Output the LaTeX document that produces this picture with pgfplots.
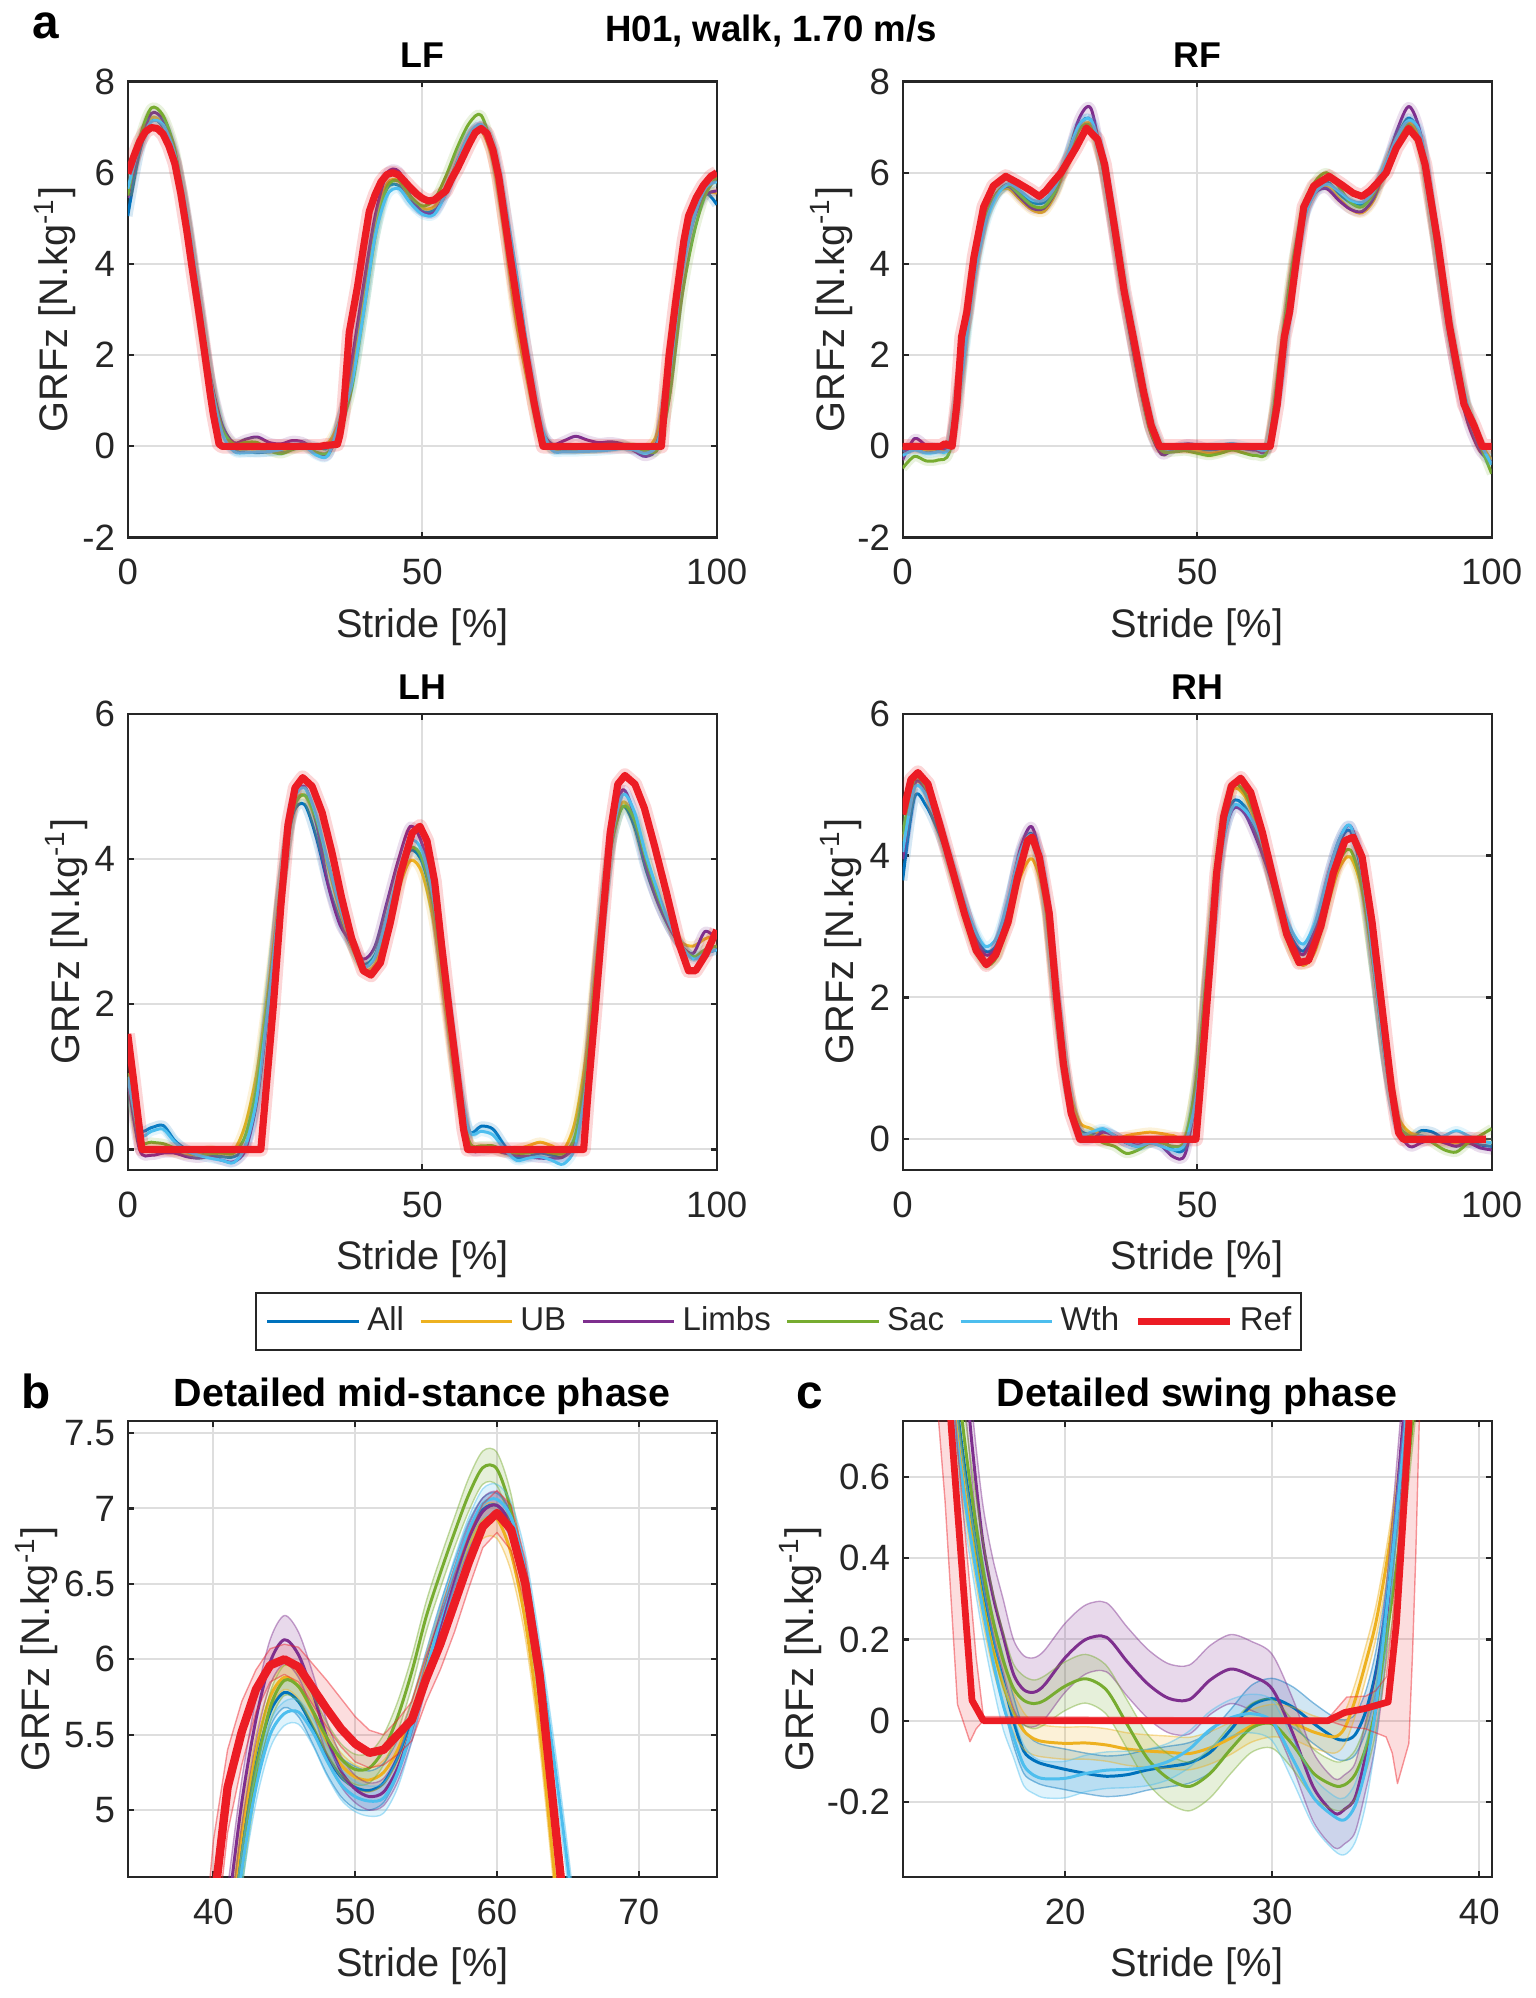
\documentclass[border=0pt]{standalone}
\usepackage{fontspec}
\setmainfont{Liberation Sans}
\usepackage{pgfplots}
\pgfplotsset{compat=1.18}
\usepackage{pgfplotstable}
\usepgfplotslibrary{fillbetween}

\definecolor{cAll}{HTML}{0072BD}
\definecolor{cUB}{HTML}{EDB120}
\definecolor{cLimbs}{HTML}{7E2F8E}
\definecolor{cSac}{HTML}{77AC30}
\definecolor{cWth}{HTML}{4DBEEE}
\definecolor{cRef}{HTML}{EC1C24}
\definecolor{axgray}{HTML}{262626}
\definecolor{gridgray}{HTML}{DEDEDE}

% ---------- LF (also zoomed in b and c) ----------
\pgfplotstableread{
x A U L S W
0 5.05 5.50 5.45 5.50 5.65
2 6.45 6.60 6.60 6.75 6.60
4 7.15 7.20 7.30 7.42 7.12
6 7.00 7.05 7.15 7.25 7.05
8 6.30 6.30 6.40 6.50 6.40
10 4.95 4.90 4.95 5.00 5.10
12 3.15 3.10 3.20 3.20 3.35
14 1.40 1.35 1.55 1.50 1.50
16 0.34 0.30 0.48 0.40 0.30
18 -0.08 -0.03 0.08 0.05 -0.11
20 -0.12 -0.056 0.155 0.087 -0.14
22 -0.137 -0.06 0.205 0.083 -0.122
24 -0.12 -0.076 0.085 -0.09 -0.115
26 -0.104 -0.08 0.052 -0.162 -0.07
28 -0.02 -0.043 0.128 -0.07 0.008
30 0.054 0.0 0.08 -0.007 0.0
32 -0.007 -0.028 -0.16 -0.13 -0.19
34 -0.03 0.065 -0.19 -0.135 -0.2
36 0.52 0.58 0.50 0.38 0.56
38 1.55 1.65 1.85 1.25 1.35
40 3.10 3.20 3.50 2.90 2.90
42 4.75 4.85 5.05 4.60 4.60
44 5.65 5.75 5.98 5.68 5.50
46 5.72 5.82 6.03 5.82 5.65
48 5.36 5.45 5.48 5.48 5.33
50 5.15 5.22 5.14 5.27 5.09
52 5.18 5.25 5.12 5.40 5.08
54 5.62 5.65 5.55 5.92 5.55
56 6.27 6.25 6.22 6.57 6.26
58 6.82 6.76 6.80 7.09 6.85
60 7.02 6.93 7.02 7.26 7.06
62 6.50 6.25 6.50 6.45 6.60
64 5.05 4.62 5.02 4.95 5.35
66 3.15 2.70 3.10 3.05 3.80
68 1.75 1.35 1.70 1.60 2.00
70 0.40 0.20 0.45 0.35 0.55
72 -0.05 -0.05 0.05 0.0 -0.08
74 -0.08 -0.05 0.12 -0.04 -0.12
76 -0.08 -0.06 0.22 -0.05 -0.12
78 -0.06 -0.05 0.14 -0.06 -0.11
80 -0.05 -0.04 0.08 -0.05 -0.10
82 -0.03 -0.02 0.10 0.02 -0.08
84 0.0 0.0 0.05 0.03 -0.05
86 -0.05 -0.03 -0.10 -0.02 -0.08
88 -0.12 -0.05 -0.22 -0.10 -0.15
90 0.15 0.35 0.05 -0.05 0.10
92 1.65 2.00 1.70 1.10 1.60
94 3.75 4.05 3.80 3.20 3.70
96 4.95 5.10 4.95 4.60 4.95
98 5.55 5.55 5.50 5.50 5.65
100 5.30 5.55 5.60 5.90 5.80
}\lfmain

\pgfplotstableread{
x y
0 5.98
1 6.35
2 6.68
3 6.90
4 6.99
5 6.97
6 6.85
7 6.58
8 6.20
9 5.55
10 4.75
11 3.85
12 3.00
13 2.10
14 1.15
14.5 0.72
15.5 0.05
16.05 0
32.7 0
33.5 0.02
34.5 0.03
35.6 0.046
36 0.24
36.3 0.48
36.6 0.73
37.6 2.5
39 3.5
40 4.35
41 5.15
42 5.52
43 5.80
44 5.96
45 6.00
46 5.95
47 5.81
48 5.67
49 5.54
50 5.44
51 5.38
52 5.40
53 5.50
54 5.60
55 5.87
56 6.10
57 6.37
58 6.64
59 6.88
60 6.97
61 6.86
62 6.50
63 5.90
64 5.00
65 4.10
66 3.25
67 2.45
68 1.70
69 0.95
70 0.30
70.5 0
90.6 0
91.2 1.0
91.9 2.0
93 3.15
94.4 4.5
95.2 5.05
96.5 5.45
97.7 5.72
99 5.92
100 6.0
}\lfred

% ---------- b: mid-stance detail (mean, lo, hi) ----------
\pgfplotstableread{
x Am Alo Ahi Um Ulo Uhi Lm Llo Lhi Sm Slo Shi Wm Wlo Whi
39 2.20 2.00 2.40 2.30 2.12 2.48 2.60 2.40 2.80 2.00 1.82 2.18 2.00 1.82 2.18
40 3.10 2.92 3.28 3.20 3.04 3.36 3.50 3.30 3.70 2.90 2.72 3.08 2.90 2.72 3.08
41 4.00 3.84 4.16 4.10 3.96 4.24 4.30 4.12 4.48 3.80 3.64 3.96 3.80 3.64 3.96
42 4.75 4.62 4.88 4.85 4.73 4.97 5.05 4.90 5.20 4.60 4.47 4.73 4.60 4.48 4.72
43 5.30 5.19 5.41 5.40 5.30 5.50 5.60 5.46 5.74 5.25 5.14 5.36 5.15 5.05 5.25
44 5.65 5.55 5.75 5.75 5.67 5.83 5.98 5.83 6.13 5.68 5.58 5.78 5.50 5.41 5.59
45 5.78 5.68 5.88 5.88 5.80 5.96 6.13 5.97 6.29 5.86 5.76 5.96 5.64 5.56 5.72
46 5.72 5.62 5.82 5.82 5.74 5.90 6.03 5.88 6.18 5.82 5.72 5.92 5.65 5.57 5.73
47 5.55 5.44 5.66 5.65 5.57 5.73 5.78 5.65 5.91 5.66 5.56 5.76 5.52 5.43 5.61
48 5.36 5.24 5.48 5.45 5.37 5.53 5.48 5.37 5.59 5.48 5.38 5.58 5.33 5.23 5.43
49 5.22 5.09 5.35 5.30 5.22 5.38 5.26 5.16 5.36 5.34 5.24 5.44 5.17 5.07 5.27
50 5.15 5.01 5.29 5.22 5.14 5.30 5.14 5.05 5.23 5.27 5.17 5.37 5.09 4.99 5.19
51 5.13 5.00 5.26 5.20 5.12 5.28 5.09 5.00 5.18 5.28 5.18 5.38 5.06 4.96 5.16
52 5.18 5.05 5.31 5.25 5.17 5.33 5.12 5.03 5.21 5.40 5.30 5.50 5.08 4.98 5.18
53 5.35 5.23 5.47 5.40 5.32 5.48 5.28 5.19 5.37 5.62 5.52 5.72 5.25 5.15 5.35
54 5.62 5.51 5.73 5.65 5.57 5.73 5.55 5.46 5.64 5.92 5.82 6.02 5.55 5.46 5.64
55 5.95 5.85 6.05 5.95 5.87 6.03 5.90 5.81 5.99 6.28 6.18 6.38 5.92 5.83 6.01
56 6.27 6.17 6.37 6.25 6.17 6.33 6.22 6.13 6.31 6.57 6.47 6.67 6.26 6.17 6.35
57 6.56 6.47 6.65 6.52 6.43 6.61 6.52 6.43 6.61 6.84 6.74 6.94 6.58 6.49 6.67
58 6.82 6.73 6.91 6.76 6.66 6.86 6.80 6.71 6.89 7.09 6.98 7.20 6.85 6.76 6.94
59 6.99 6.91 7.07 6.92 6.80 7.02 6.98 6.89 7.07 7.27 7.16 7.38 7.03 6.93 7.13
60 7.02 6.94 7.10 6.93 6.80 7.02 7.02 6.93 7.11 7.26 7.15 7.37 7.06 6.96 7.16
61 6.88 6.80 6.96 6.70 6.58 6.80 6.88 6.79 6.97 6.98 6.87 7.09 6.94 6.84 7.04
62 6.50 6.41 6.59 6.25 6.14 6.36 6.50 6.40 6.60 6.45 6.34 6.56 6.60 6.50 6.70
63 5.88 5.78 5.98 5.55 5.43 5.67 5.88 5.77 5.99 5.80 5.68 5.92 6.02 5.91 6.13
64 5.05 4.94 5.16 4.62 4.50 4.74 5.02 4.90 5.14 4.95 4.83 5.07 5.35 5.23 5.47
65 4.10 3.98 4.22 3.65 3.53 3.77 4.05 3.93 4.17 4.00 3.88 4.12 4.62 4.50 4.74
66 3.15 3.03 3.27 2.70 2.58 2.82 3.10 2.98 3.22 3.05 2.93 3.17 3.80 3.68 3.92
}\tabb

\pgfplotstableread{
x lo hi
39 3.30 3.75
40 4.00 4.80
41 4.85 5.40
42 5.30 5.72
43 5.65 5.93
44 5.85 6.07
45 5.90 6.10
46 5.85 6.08
47 5.70 5.97
48 5.55 5.86
49 5.42 5.74
50 5.32 5.62
51 5.28 5.53
52 5.30 5.50
53 5.37 5.60
54 5.46 5.72
55 5.72 6.02
56 5.93 6.28
57 6.18 6.56
58 6.47 6.82
59 6.74 7.03
60 6.84 7.12
61 6.72 7.02
62 6.35 6.66
63 5.75 6.06
64 4.85 5.16
65 3.95 4.26
66 3.10 3.40
}\redb

% ---------- c: swing detail (mean, lo, hi) ----------
\pgfplotstableread{
x Am Alo Ahi Um Ulo Uhi Lm Llo Lhi Sm Slo Shi Wm Wlo Whi
13 1.65 1.58 1.72 1.60 1.54 1.66 1.90 1.78 2.02 1.80 1.72 1.88 1.55 1.48 1.62
14 1.10 1.04 1.16 1.05 1.00 1.10 1.30 1.19 1.41 1.20 1.13 1.27 1.02 0.96 1.08
15 0.68 0.62 0.74 0.62 0.57 0.67 0.95 0.85 1.05 0.75 0.68 0.82 0.60 0.54 0.66
15.5 0.50 0.44 0.56 0.45 0.40 0.50 0.68 0.59 0.77 0.55 0.48 0.62 0.43 0.37 0.49
16 0.34 0.28 0.40 0.30 0.25 0.35 0.45 0.36 0.54 0.38 0.31 0.45 0.28 0.22 0.34
16.5 0.20 0.14 0.26 0.18 0.13 0.23 0.31 0.22 0.40 0.25 0.18 0.32 0.15 0.09 0.21
17 0.10 0.04 0.16 0.09 0.04 0.14 0.21 0.12 0.30 0.15 0.08 0.22 0.04 -0.02 0.10
17.5 0.00 -0.06 0.06 0.02 -0.03 0.07 0.115 0.03 0.20 0.08 0.02 0.14 -0.04 -0.09 0.01
18 -0.075 -0.13 -0.02 -0.025 -0.07 0.02 0.076 -0.01 0.16 0.05 -0.01 0.11 -0.11 -0.16 -0.06
18.5 -0.098 -0.15 -0.05 -0.045 -0.085 -0.005 0.07 -0.015 0.155 0.042 -0.02 0.10 -0.135 -0.18 -0.09
19 -0.108 -0.16 -0.06 -0.052 -0.09 -0.012 0.088 0.003 0.173 0.05 -0.01 0.11 -0.143 -0.19 -0.10
20 -0.12 -0.17 -0.07 -0.056 -0.095 -0.016 0.155 0.07 0.24 0.085 0.025 0.145 -0.142 -0.19 -0.10
21 -0.13 -0.18 -0.08 -0.055 -0.095 -0.015 0.20 0.115 0.285 0.103 0.043 0.163 -0.13 -0.175 -0.085
22 -0.137 -0.187 -0.087 -0.06 -0.10 -0.02 0.205 0.12 0.29 0.075 0.015 0.135 -0.122 -0.167 -0.077
23 -0.133 -0.183 -0.083 -0.07 -0.11 -0.03 0.145 0.06 0.23 -0.01 -0.07 0.05 -0.12 -0.165 -0.075
24 -0.121 -0.171 -0.071 -0.075 -0.115 -0.035 0.09 0.005 0.175 -0.095 -0.155 -0.035 -0.115 -0.16 -0.07
25 -0.113 -0.163 -0.063 -0.078 -0.118 -0.038 0.055 -0.03 0.14 -0.143 -0.203 -0.083 -0.10 -0.145 -0.055
26 -0.104 -0.154 -0.054 -0.081 -0.121 -0.041 0.052 -0.033 0.137 -0.162 -0.222 -0.102 -0.07 -0.115 -0.025
27 -0.078 -0.128 -0.028 -0.067 -0.107 -0.027 0.10 0.015 0.185 -0.13 -0.19 -0.07 -0.022 -0.067 0.023
28 -0.022 -0.072 0.028 -0.043 -0.083 -0.003 0.127 0.042 0.212 -0.07 -0.13 -0.01 0.007 -0.038 0.052
29 0.037 -0.013 0.087 -0.013 -0.053 0.027 0.11 0.025 0.195 -0.018 -0.078 0.042 0.017 -0.03 0.065
30 0.054 0.004 0.104 0.00 -0.04 0.04 0.078 -0.007 0.163 -0.008 -0.068 0.052 -0.002 -0.05 0.05
31 0.033 -0.017 0.083 -0.007 -0.047 0.033 -0.032 -0.117 0.053 -0.06 -0.12 0.00 -0.095 -0.15 -0.045
32 -0.007 -0.057 0.043 -0.028 -0.068 0.012 -0.165 -0.25 -0.08 -0.13 -0.19 -0.07 -0.19 -0.26 -0.14
33 -0.042 -0.092 0.008 -0.04 -0.08 0.00 -0.228 -0.313 -0.143 -0.16 -0.22 -0.10 -0.236 -0.32 -0.186
33.5 -0.048 -0.098 0.002 -0.018 -0.058 0.022 -0.218 -0.303 -0.133 -0.158 -0.218 -0.098 -0.244 -0.33 -0.19
34 -0.035 -0.085 0.015 0.05 0.01 0.09 -0.19 -0.275 -0.105 -0.133 -0.193 -0.073 -0.21 -0.30 -0.155
34.5 0.02 -0.03 0.07 0.14 0.10 0.18 -0.09 -0.175 -0.005 -0.07 -0.13 -0.01 -0.12 -0.21 -0.065
35 0.12 0.07 0.17 0.24 0.20 0.28 0.03 -0.055 0.115 0.03 -0.03 0.09 0.03 -0.05 0.08
35.5 0.28 0.23 0.33 0.38 0.34 0.42 0.24 0.155 0.325 0.20 0.14 0.26 0.26 0.19 0.31
36 0.50 0.45 0.55 0.55 0.51 0.59 0.54 0.455 0.625 0.38 0.32 0.44 0.50 0.44 0.55
36.5 0.72 0.67 0.77 0.75 0.71 0.79 0.85 0.765 0.935 0.60 0.54 0.66 0.76 0.71 0.81
37 0.98 0.93 1.03 0.98 0.94 1.02 1.20 1.115 1.285 0.85 0.79 0.91 1.02 0.97 1.07
37.5 1.28 1.23 1.33 1.25 1.21 1.29 1.60 1.515 1.685 1.15 1.09 1.21 1.30 1.25 1.35
38 1.60 1.55 1.65 1.55 1.51 1.59 1.90 1.815 1.985 1.45 1.39 1.51 1.60 1.55 1.65
}\tabc

\pgfplotstableread{
x lo hi
12 2.20 3.30
13 1.40 2.50
13.9 0.73 1.30
14.2 0.54 1.10
14.8 0.04 0.67
15.4 -0.052 0.33
15.7 -0.02 0.156
16.05 0 0.01
32.7 0 0.005
33.6 -0.015 0.058
34.5 -0.02 0.06
35.0 -0.03 0.074
35.5 -0.04 0.107
35.8 -0.08 0.24
36.05 -0.155 0.42
36.6 -0.056 0.85
36.77 0.156 1.0
36.93 0.40 1.2
37.1 0.73 1.4
38 1.80 2.60
}\redc

% ---------- RF ----------
\pgfplotstableread{
x A U L S W
0 -0.10 -0.05 -0.30 -0.48 -0.20
2 -0.02 0.0 0.17 -0.22 -0.08
4 -0.10 -0.08 0.02 -0.32 -0.15
6 -0.08 -0.05 -0.02 -0.30 -0.12
8 0.05 0.05 0.10 -0.10 0.0
10 1.75 1.90 1.85 1.60 1.50
12 3.80 3.90 3.85 3.70 3.55
14 5.00 5.05 5.00 4.95 4.85
16 5.55 5.55 5.55 5.55 5.50
18 5.75 5.65 5.70 5.72 5.75
20 5.55 5.40 5.45 5.50 5.60
22 5.35 5.18 5.22 5.28 5.40
24 5.35 5.15 5.22 5.25 5.40
26 5.70 5.55 5.60 5.62 5.72
28 6.35 6.25 6.35 6.30 6.40
30 7.05 6.95 7.20 6.95 7.05
32 7.15 7.05 7.40 7.00 7.15
34 6.20 6.15 6.10 6.10 6.30
36 4.70 4.70 4.50 4.60 4.85
38 3.15 3.15 2.90 3.00 3.30
40 1.75 1.75 1.50 1.55 1.90
42 0.55 0.55 0.35 0.35 0.65
44 -0.05 -0.02 -0.18 -0.10 0.0
46 -0.05 -0.05 -0.05 -0.12 -0.05
48 0.0 -0.05 0.05 -0.10 0.0
50 -0.05 -0.10 0.03 -0.15 -0.03
52 -0.08 -0.15 -0.05 -0.20 -0.02
54 -0.05 -0.12 -0.05 -0.15 0.03
56 -0.02 -0.05 0.0 -0.08 0.06
58 -0.05 -0.05 -0.05 -0.15 0.0
60 -0.08 -0.05 -0.08 -0.20 -0.05
62 -0.02 0.0 -0.05 -0.05 0.0
64 1.50 1.60 1.45 1.90 1.30
66 3.55 3.65 3.50 3.85 3.35
68 5.00 5.05 4.95 5.20 4.90
70 5.60 5.60 5.55 5.80 5.55
72 5.80 5.72 5.65 6.00 5.75
74 5.55 5.45 5.40 5.70 5.60
76 5.35 5.20 5.20 5.35 5.40
78 5.30 5.12 5.15 5.25 5.35
80 5.55 5.40 5.45 5.55 5.60
82 6.15 6.10 6.15 6.10 6.20
84 6.80 6.75 6.95 6.70 6.80
86 7.20 7.10 7.45 7.05 7.15
88 6.70 6.60 6.80 6.50 6.80
90 5.00 5.00 4.95 4.85 5.15
92 3.25 3.30 3.05 3.15 3.45
94 1.80 1.85 1.55 1.75 1.95
96 0.75 0.80 0.50 0.75 0.85
98 0.05 0.10 -0.10 0.05 0.10
100 -0.30 -0.30 -0.35 -0.60 -0.40
}\rfmain

\pgfplotstableread{
x y
0 0
6.5 0
7.2 0.06
7.8 0.02
8.4 0
9.2 0.92
10.0 2.4
10.9 2.95
12.1 4.15
13.75 5.25
15.4 5.71
17.5 5.92
19.5 5.78
21.6 5.62
23.2 5.48
24.3 5.6
25.3 5.76
26.9 6.0
29.4 6.54
31.2 6.98
33.1 6.73
34.3 6.18
36.0 4.79
37.6 3.41
39.3 2.3
40.9 1.2
42.2 0.46
43.6 0
62.4 0
63.6 0.92
64.8 2.4
65.7 2.95
66.9 4.15
68.1 5.25
69.8 5.71
72.4 5.92
74.7 5.72
76.5 5.55
78 5.48
79.3 5.6
80.5 5.76
82.1 6.0
83.8 6.54
85.9 6.97
87.5 6.73
88.7 6.18
90.8 4.52
92.8 2.67
95.3 0.92
97 0.46
98.4 0
100 0
}\rfred

% ---------- LH ----------
\pgfplotstableread{
x A U L S W
0 0.90 1.00 0.95 1.05 1.00
2 0.28 0.10 0.0 0.15 0.22
4 0.30 0.02 -0.08 0.10 0.25
6 0.33 0.0 -0.05 0.08 0.28
8 0.12 -0.05 -0.05 0.02 0.10
10 0.0 -0.08 -0.10 -0.03 -0.02
12 -0.05 -0.05 -0.12 -0.08 -0.08
14 -0.08 0.0 -0.10 -0.06 -0.12
16 -0.10 -0.05 -0.15 -0.05 -0.15
18 -0.10 -0.02 -0.17 -0.05 -0.18
20 0.05 0.35 0.0 0.20 0.05
22 0.75 1.10 0.70 0.90 0.75
24 2.10 2.30 2.05 2.20 2.10
26 3.60 3.65 3.55 3.55 3.60
28 4.60 4.70 4.75 4.65 4.75
30 4.75 4.88 5.00 4.88 4.98
32 4.30 4.50 4.50 4.55 4.60
34 3.65 3.90 3.65 3.95 3.95
36 3.15 3.30 3.10 3.35 3.35
38 2.80 2.80 2.85 2.85 2.85
40 2.55 2.48 2.62 2.52 2.52
42 2.68 2.55 2.80 2.65 2.65
44 3.20 3.05 3.40 3.15 3.20
46 3.75 3.60 4.00 3.70 3.80
48 4.12 3.98 4.45 4.15 4.25
50 3.95 3.80 4.20 4.00 4.10
52 3.30 3.10 3.45 3.30 3.40
54 2.15 1.90 2.20 2.10 2.25
56 0.90 0.75 0.95 0.90 1.05
58 0.25 0.10 0.05 0.10 0.25
60 0.32 0.02 -0.02 0.05 0.25
62 0.28 0.0 0.0 0.05 0.20
64 0.05 -0.05 -0.05 -0.02 0.0
66 -0.12 0.0 -0.08 -0.05 -0.15
68 -0.10 0.05 -0.10 -0.05 -0.12
70 -0.05 0.10 -0.12 -0.02 -0.10
72 -0.08 0.05 -0.12 -0.05 -0.15
74 -0.10 0.0 -0.10 -0.05 -0.20
76 0.15 0.40 0.10 0.20 0.05
78 1.10 1.40 1.00 1.20 1.00
80 2.80 2.95 2.75 2.85 2.70
82 4.15 4.25 4.30 4.15 4.20
84 4.72 4.78 4.95 4.72 4.88
86 4.45 4.55 4.60 4.55 4.65
88 3.85 4.00 3.90 4.00 4.05
90 3.40 3.50 3.40 3.50 3.55
92 3.05 3.10 3.05 3.10 3.10
94 2.80 2.85 2.80 2.80 2.80
96 2.65 2.80 2.70 2.65 2.62
98 2.70 2.90 3.00 2.75 2.70
100 2.75 2.95 2.90 2.80 2.75
}\lhmain

\pgfplotstableread{
x y
0 1.59
1 0.95
2.4 0
22.6 0
23.5 0.84
24.7 1.96
26.0 3.36
27.2 4.47
28.4 4.98
29.7 5.12
31.3 5.0
33.0 4.64
34.7 4.08
36.3 3.47
38.0 2.91
40.0 2.46
41.3 2.4
42.9 2.57
44.6 3.13
46.3 3.8
48.3 4.36
49.6 4.45
50.8 4.25
52.1 3.69
53.3 2.8
54.6 1.9
55.8 1.12
57.0 0.28
57.7 0
77.4 0
78.2 0.84
79.4 1.96
80.7 3.24
81.9 4.36
83.2 5.03
84.4 5.15
86.1 5.03
87.7 4.7
89.4 4.19
91.5 3.52
93.5 2.85
95.2 2.46
96.4 2.46
98.1 2.68
100 3.02
}\lhred

% ---------- RH ----------
\pgfplotstableread{
x A U L S W
0 3.65 4.20 3.95 4.30 4.05
2 4.82 5.02 5.00 5.08 4.95
4 4.70 4.90 4.92 4.95 4.85
6 4.35 4.45 4.50 4.45 4.45
8 3.90 3.90 3.95 3.88 3.95
10 3.40 3.32 3.42 3.30 3.45
12 2.95 2.80 2.90 2.78 3.00
14 2.65 2.50 2.60 2.46 2.72
16 2.75 2.60 2.72 2.58 2.85
18 3.35 3.10 3.35 3.20 3.40
20 4.05 3.70 4.10 3.90 4.05
22 4.30 3.95 4.40 4.18 4.28
24 3.55 3.40 3.65 3.50 3.60
26 2.05 1.95 2.10 2.00 2.10
28 0.75 0.80 0.75 0.70 0.75
30 0.15 0.25 0.05 0.12 0.10
32 0.08 0.15 0.0 0.05 0.10
34 0.12 0.05 0.10 -0.05 0.15
36 0.05 0.0 0.05 -0.10 0.05
38 -0.05 0.05 -0.05 -0.20 -0.05
40 -0.10 0.08 -0.08 -0.15 -0.10
42 -0.05 0.10 -0.05 -0.05 -0.05
44 0.0 0.08 -0.10 -0.05 -0.10
46 -0.15 0.05 -0.25 -0.10 -0.15
48 -0.10 0.05 -0.20 0.0 -0.05
50 0.80 0.90 0.75 0.95 0.70
52 2.55 2.65 2.50 2.70 2.45
54 4.10 4.25 4.05 4.30 4.00
56 4.75 4.92 4.65 4.98 4.68
58 4.70 4.85 4.60 4.90 4.65
60 4.35 4.45 4.25 4.50 4.40
62 3.85 3.85 3.80 3.90 3.95
64 3.30 3.20 3.25 3.25 3.40
66 2.85 2.65 2.80 2.70 2.95
68 2.65 2.45 2.60 2.50 2.75
70 2.95 2.65 2.95 2.75 3.05
72 3.55 3.25 3.65 3.35 3.65
74 4.15 3.80 4.20 3.90 4.20
76 4.35 3.98 4.42 4.08 4.42
78 3.70 3.50 3.85 3.55 3.75
80 2.40 2.40 2.50 2.40 2.45
82 1.10 1.20 1.15 1.10 1.10
84 0.25 0.35 0.20 0.25 0.20
86 0.02 0.10 -0.10 0.05 0.0
88 0.12 0.05 -0.05 0.05 0.05
90 0.10 0.0 0.0 -0.05 0.0
92 0.0 -0.05 -0.05 -0.15 0.05
94 -0.05 -0.05 -0.10 -0.18 0.12
96 -0.05 0.0 -0.05 -0.05 0.05
98 -0.08 -0.02 -0.12 0.05 -0.02
100 -0.10 -0.05 -0.15 0.15 -0.05
}\rhmain

\pgfplotstableread{
x y
0 4.58
1.4 5.07
2.6 5.17
4.3 5.01
6.3 4.44
8.4 3.81
10.5 3.18
12.5 2.66
14.2 2.46
15.8 2.6
17.9 3.06
19.5 3.69
21.2 4.21
22.0 4.26
23.2 3.98
24.9 3.18
26.1 2.03
27.3 1.06
28.6 0.37
30.1 0
49.8 0
50.8 1.0
52.1 2.38
53.3 3.75
54.5 4.55
55.8 4.98
57.4 5.09
59.1 4.89
61.1 4.32
63.2 3.58
65.2 2.89
67.3 2.49
68.9 2.52
71.0 3.0
73.1 3.75
75.1 4.21
76.5 4.26
78.0 3.98
79.7 3.06
81.3 1.92
83.0 0.72
84.2 0.09
85.0 0
99.0 0
}\rhred

\pgfplotsset{
  grf/.style={
    scale only axis, width=148pt, height=114.6pt, anchor=south west,
    axis line style={axgray, line width=0.55pt},
    tick style={axgray, line width=0.55pt},
    major tick length=1.5pt, tick align=inside,
    grid=major, major grid style={gridgray, line width=0.5pt},
    tick label style={font=\fontsize{9.2}{10}\selectfont, text=axgray},
    /pgf/number format/assume math mode=true,
    xticklabel style={anchor=base, yshift=-11.9pt},
    yticklabel style={anchor=east, inner sep=0pt, xshift=-3pt},
    xlabel={Stride [\%]},
    ylabel={GRFz [N.kg\textsuperscript{-1}]},
    label style={font=\fontsize{10}{12}\selectfont, text=axgray},
    xlabel style={at={(axis description cs:0.5,0)}, anchor=base, yshift=-25pt},
    every axis title/.style={at={(axis description cs:0.5,1)}, anchor=base, yshift=3.6pt,
      font=\bfseries\fontsize{9}{11}\selectfont},
    every axis plot/.append style={line join=round},
  },
  ylab/.style={ylabel style={at={(axis description cs:#1,0.5)}, anchor=center}},
}

% one series of a whole-stride panel: faint wide band, then the mean line
\newcommand{\ser}[3]{%
  \addplot[#3, line width=2.4pt, opacity=0.16, smooth, forget plot] table[x=x, y=#2] {#1};
  \addplot[#3, line width=0.75pt, smooth] table[x=x, y=#2] {#1};}
\newcommand{\refl}[1]{%
  \addplot[cRef, line width=3.6pt, opacity=0.18, forget plot] table[x=x, y=y] {#1};
  \addplot[cRef, line width=1.8pt] table[x=x, y=y] {#1};}
% detailed panels: band between lo and hi, then the mean
\newcommand{\band}[6]{%
  \addplot[name path=#6lo, draw=#5, draw opacity=0.45, line width=0.35pt, smooth, forget plot] table[x=x, y=#2] {#1};
  \addplot[name path=#6hi, draw=#5, draw opacity=0.45, line width=0.35pt, smooth, forget plot] table[x=x, y=#3] {#1};
  \addplot[fill=#5, fill opacity=0.18, draw=none, forget plot] fill between[of=#6lo and #6hi];
  \addplot[#5, line width=0.75pt, smooth] table[x=x, y=#4] {#1};}
\newcommand{\redband}[2]{%
  \addplot[name path=#2lo, draw=cRef, draw opacity=0.45, line width=0.35pt, forget plot] table[x=x, y=lo] {#1};
  \addplot[name path=#2hi, draw=cRef, draw opacity=0.45, line width=0.35pt, forget plot] table[x=x, y=hi] {#1};
  \addplot[fill=cRef, fill opacity=0.15, draw=none, forget plot] fill between[of=#2lo and #2hi];}

\begin{document}
\begin{tikzpicture}

\begin{axis}[grf, at={(32.1pt,-133.65pt)}, title={LF},
  xmin=0, xmax=100, ymin=-2, ymax=8, xtick={0,50,100}, ytick={-2,0,2,4,6,8}, ylab=-0.123]
\ser{\lfmain}{A}{cAll}\ser{\lfmain}{U}{cUB}\ser{\lfmain}{L}{cLimbs}\ser{\lfmain}{S}{cSac}\ser{\lfmain}{W}{cWth}
\refl{\lfred}
\end{axis}

\begin{axis}[grf, at={(226.8pt,-133.65pt)}, title={RF},
  xmin=0, xmax=100, ymin=-2, ymax=8, xtick={0,50,100}, ytick={-2,0,2,4,6,8}, ylab=-0.121]
\ser{\rfmain}{A}{cAll}\ser{\rfmain}{U}{cUB}\ser{\rfmain}{L}{cLimbs}\ser{\rfmain}{S}{cSac}\ser{\rfmain}{W}{cWth}
\refl{\rfred}
\end{axis}

\begin{axis}[grf, at={(32.1pt,-292.5pt)}, title={LH},
  xmin=0, xmax=100, ymin=-0.28, ymax=6, xtick={0,50,100}, ytick={0,2,4,6}, ylab=-0.104,
  legend entries={All,UB,Limbs,Sac,Wth,Ref},
  legend columns=6,
  legend image code/.code={\draw[#1] (0pt,0pt) -- (23pt,0pt);},
  legend style={at={(axis description cs:1.105,-0.333)}, anchor=center,
    draw=axgray, line width=0.6pt, fill=white,
    font=\fontsize{8.3}{9}\selectfont, text=axgray,
    inner xsep=2.5pt, inner ysep=2.4pt,
    nodes={inner xsep=0pt, inner ysep=1pt},
    /tikz/every odd column/.append style={column sep=1.7pt},
    /tikz/every even column/.append style={column sep=3.8pt}}]
\ser{\lhmain}{A}{cAll}\ser{\lhmain}{U}{cUB}\ser{\lhmain}{L}{cLimbs}\ser{\lhmain}{S}{cSac}\ser{\lhmain}{W}{cWth}
\refl{\lhred}
\end{axis}

\begin{axis}[grf, at={(226.8pt,-292.5pt)}, title={RH},
  xmin=0, xmax=100, ymin=-0.43, ymax=6, xtick={0,50,100}, ytick={0,2,4,6}, ylab=-0.105]
\ser{\rhmain}{A}{cAll}\ser{\rhmain}{U}{cUB}\ser{\rhmain}{L}{cLimbs}\ser{\rhmain}{S}{cSac}\ser{\rhmain}{W}{cWth}
\refl{\rhred}
\end{axis}

\begin{axis}[grf, at={(32.1pt,-470.2pt)}, title={Detailed mid-stance phase},
  title style={font=\bfseries\fontsize{9.9}{11}\selectfont},
  xmin=33.96, xmax=75.5, ymin=4.557, ymax=7.58, xtick={40,50,60,70},
  ytick={5,5.5,6,6.5,7,7.5}, ylab=-0.155]
\band{\tabb}{Alo}{Ahi}{Am}{cAll}{ba}
\band{\tabb}{Ulo}{Uhi}{Um}{cUB}{bu}
\band{\tabb}{Llo}{Lhi}{Lm}{cLimbs}{bl}
\band{\tabb}{Slo}{Shi}{Sm}{cSac}{bs}
\band{\tabb}{Wlo}{Whi}{Wm}{cWth}{bw}
\redband{\redb}{br}
\addplot[cRef, line width=2.1pt] table[x=x, y=y] {\lfred};
\end{axis}

\begin{axis}[grf, at={(226.8pt,-470.2pt)}, title={Detailed swing phase},
  title style={font=\bfseries\fontsize{9.9}{11}\selectfont},
  xmin=12.15, xmax=40.6, ymin=-0.385, ymax=0.738, xtick={20,30,40},
  ytick={-0.2,0,0.2,0.4,0.6}, ylab=-0.173]
\band{\tabc}{Alo}{Ahi}{Am}{cAll}{ca}
\band{\tabc}{Ulo}{Uhi}{Um}{cUB}{cu}
\band{\tabc}{Llo}{Lhi}{Lm}{cLimbs}{cl}
\band{\tabc}{Slo}{Shi}{Sm}{cSac}{cs}
\band{\tabc}{Wlo}{Whi}{Wm}{cWth}{cw}
\redband{\redc}{cr}
\addplot[cRef, line width=1.7pt] table[x=x, y=y] {\lfred};
\end{axis}

\begin{scope}[x=0.25pt, y=-0.25pt]
\path (0,0) rectangle (1535,1998);
\node[anchor=base, font=\bfseries\fontsize{12}{14}\selectfont] at (46.5,33.5) {a};
\node[anchor=base, font=\bfseries\fontsize{12}{14}\selectfont] at (36,1410) {b};
\node[anchor=base, font=\bfseries\fontsize{12}{14}\selectfont] at (814,1410) {c};
\node[anchor=base, font=\bfseries\fontsize{9.2}{11}\selectfont] at (775,35.8) {H01, walk, 1.70 m/s};
\end{scope}

\end{tikzpicture}
\end{document}
